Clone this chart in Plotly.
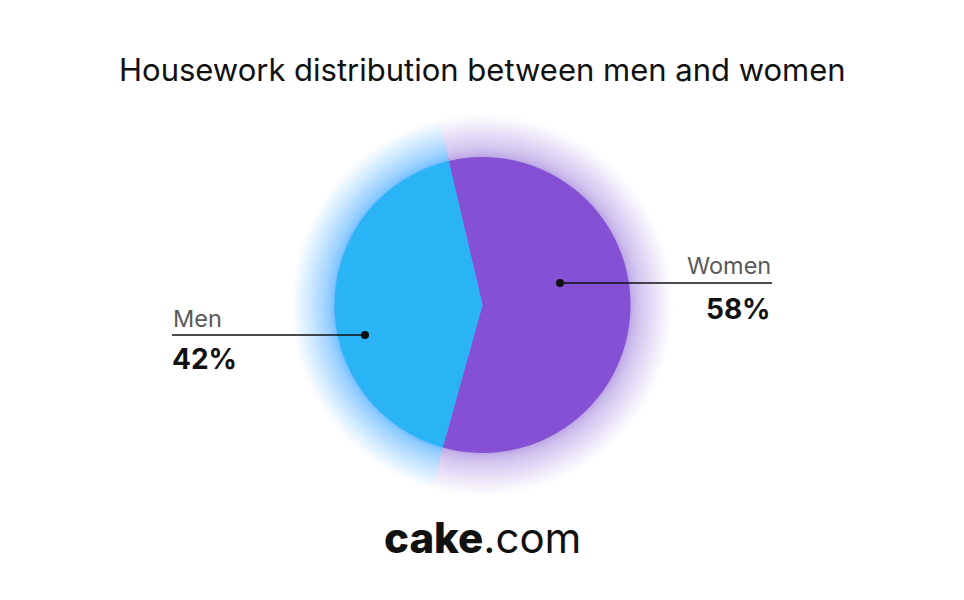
import plotly.graph_objects as go

# ---- data ----
categories = ["Women", "Men"]
shares = [58, 42]
label_text = ["58%", "42%"]
slice_colors = ["#8550d3", "#2ab4f6"]
glow_colors = ["rgba(145,95,215,0.028)", "rgba(35,172,245,0.032)"]

title_text = "Housework distribution between men and women"

W, H = 964, 600
OFF = 8  # page body margin
CX, CY, R = 482.5, 305.0, 148.0
ROT = -13.2


def px(x):
    return (x - OFF) / W


def py(y):
    return 1 - (y - OFF) / H


def dom(r):
    return dict(x=[px(CX - r), px(CX + r)], y=[py(CY + r), py(CY - r)])


fig = go.Figure()

# soft glow: stacked, slightly larger translucent pies with the same data
N = 30
for k in range(N, 0, -1):
    extra = 42.0 * (k / N) ** 2
    fig.add_trace(go.Pie(
        labels=categories, values=shares, sort=False, direction="clockwise",
        rotation=ROT, domain=dom(R + extra), textinfo="none", hoverinfo="skip",
        marker=dict(colors=glow_colors, line=dict(width=0)), showlegend=False,
    ))

fig.add_trace(go.Pie(
    labels=categories, values=shares, sort=False, direction="clockwise",
    rotation=ROT, domain=dom(R), textinfo="none",
    marker=dict(colors=slice_colors, line=dict(width=0)), showlegend=False,
))

shapes = []
annotations = []
LBL = dict(family="Inter", size=23.5, color="#5a5a5a")
VAL = dict(family="Inter", size=28, color="#111111")

# Men label (left)
shapes.append(dict(type="line", xref="paper", yref="paper",
                   x0=px(172), x1=px(365), y0=py(335), y1=py(335),
                   line=dict(color="#111111", width=1.6)))
shapes.append(dict(type="circle", xref="paper", yref="paper",
                   x0=px(361), x1=px(369), y0=py(339), y1=py(331),
                   fillcolor="#111111", line=dict(width=0)))
annotations.append(dict(text=categories[1], x=px(171), y=py(318), xref="paper", yref="paper",
                        xanchor="left", yanchor="middle", showarrow=False, font=LBL))
annotations.append(dict(text="<b>" + label_text[1] + "</b>", x=px(170), y=py(359),
                        xref="paper", yref="paper", xanchor="left", yanchor="middle",
                        showarrow=False, font=VAL))

# Women label (right)
shapes.append(dict(type="line", xref="paper", yref="paper",
                   x0=px(560), x1=px(772), y0=py(283), y1=py(283),
                   line=dict(color="#111111", width=1.6)))
shapes.append(dict(type="circle", xref="paper", yref="paper",
                   x0=px(556), x1=px(564), y0=py(287), y1=py(279),
                   fillcolor="#111111", line=dict(width=0)))
annotations.append(dict(text=categories[0], x=px(773), y=py(265), xref="paper", yref="paper",
                        xanchor="right", yanchor="middle", showarrow=False, font=LBL))
annotations.append(dict(text="<b>" + label_text[0] + "</b>", x=px(773), y=py(309),
                        xref="paper", yref="paper", xanchor="right", yanchor="middle",
                        showarrow=False, font=VAL))

# Title
annotations.append(dict(text=title_text, x=px(482), y=py(70), xref="paper", yref="paper",
                        xanchor="center", yanchor="middle", showarrow=False,
                        font=dict(family="Inter", size=31, color="#111111")))

# Brand
annotations.append(dict(text='<span style="font-weight:800">cake</span>.com',
                        x=px(482), y=py(537), xref="paper", yref="paper",
                        xanchor="center", yanchor="middle", showarrow=False,
                        font=dict(family="Inter", size=42, color="#111111")))

fig.update_layout(
    width=W, height=H, margin=dict(l=0, r=0, t=0, b=0),
    paper_bgcolor="white", plot_bgcolor="white",
    shapes=shapes, annotations=annotations, showlegend=False,
)

fig.write_html("out.html")
